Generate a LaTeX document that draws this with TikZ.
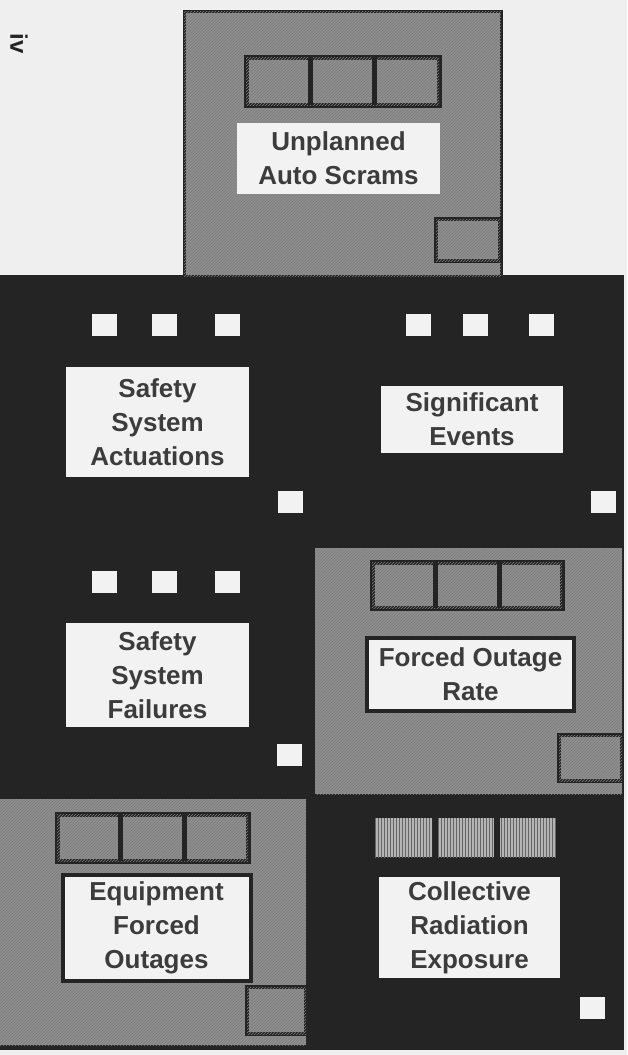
\documentclass[tikz,border=0pt]{standalone}
\usepackage{fontspec}
\setmainfont{Liberation Sans}
\usetikzlibrary{patterns}
\definecolor{paper}{HTML}{EFEFEF}
\definecolor{ink}{HTML}{242424}
\definecolor{panel}{HTML}{8F8F8F}
\definecolor{hatch}{HTML}{7C7C7C}
\definecolor{card}{HTML}{F2F2F2}
\definecolor{txt}{HTML}{3C3C3C}
\definecolor{stripe}{HTML}{B4B4B4}
\begin{document}
\begin{tikzpicture}[x=1pt,y=-1pt,
  grayfill/.style={fill=panel,postaction={pattern=north east lines,pattern color=hatch}},
  lbl/.style={fill=card,align=center,inner sep=0pt,text=txt,
    font=\bfseries\fontsize{26}{34}\selectfont},
  framedlbl/.style={lbl,draw=ink,line width=4pt},
  wsq/.style={fill=card,minimum width=25pt,minimum height=22pt,inner sep=0pt},
  barline/.style={draw=ink,line width=5pt},
  cornersq/.style={grayfill,draw=ink,line width=4pt}]
\useasboundingbox (0,0) rectangle (627,1055);
\fill[paper] (0,0) rectangle (627,1055);
% page number
\node[rotate=-90,font=\bfseries\fontsize{24}{24}\selectfont,text=ink,inner sep=0pt] (pg) at (19,44) {iv};
% dark base
\fill[ink] (0,275) rectangle (624,1050);
% ---------- top panel ----------
\path[grayfill,draw=ink,line width=3pt] (184,11) rectangle (501,276);
\path[grayfill,barline] (246,57) rectangle (439,105);
\draw[barline] (310,57) -- (310,105) (374,57) -- (374,105);
\node[lbl,minimum width=203pt,minimum height=71pt] (uas) at (338.5,158) {Unplanned\\Auto Scrams};
\path[cornersq] (436,219) rectangle (500,261);
% ---------- row 1 ----------
\node[wsq] (a1) at (104,325) {};
\node[wsq] (a2) at (164,325) {};
\node[wsq] (a3) at (227,325) {};
\node[wsq] (b1) at (418,325) {};
\node[wsq] (b2) at (475,325) {};
\node[wsq] (b3) at (541,325) {};
\node[lbl,minimum width=183pt,minimum height=110pt] (ssa) at (157.5,422) {Safety\\System\\Actuations};
\node[lbl,minimum width=182pt,minimum height=67pt] (sig) at (472,419.5) {Significant\\Events};
\node[wsq] (a4) at (290,502) {};
\node[wsq] (b4) at (603,502) {};
% ---------- row 2 left ----------
\node[wsq] (c1) at (104,582) {};
\node[wsq] (c2) at (164,582) {};
\node[wsq] (c3) at (227,582) {};
\node[lbl,minimum width=183pt,minimum height=104pt] (ssf) at (157.5,675) {Safety\\System\\Failures};
\node[wsq] (c4) at (289,754.5) {};
% ---------- row 2 right (gray) ----------
\path[grayfill] (315,548) rectangle (622,794);
\path[grayfill,barline] (372,562) rectangle (562,608);
\draw[barline] (435,562) -- (435,608) (499,562) -- (499,608);
\node[framedlbl,minimum width=207pt,minimum height=73pt] (for) at (470.5,674.5) {Forced Outage\\Rate};
\path[cornersq] (559,735) rectangle (622,781);
% ---------- row 3 left (gray) ----------
\path[grayfill] (0,799) rectangle (306,1045);
\path[grayfill,barline] (57,814) rectangle (248,861);
\draw[barline] (120,814) -- (120,861) (184,814) -- (184,861);
\node[framedlbl,minimum width=188pt,minimum height=106pt] (efo) at (156.5,928) {Equipment\\Forced\\Outages};
\path[cornersq] (247,987) rectangle (306,1034);
% ---------- row 3 right ----------
\foreach \xa/\xb [count=\i] in {375/432,438/494,500/556}{
  \path[fill=stripe,postaction={pattern=vertical lines,pattern color=ink!70}] (\xa,818) rectangle (\xb,857);
}
\node[lbl,minimum width=181pt,minimum height=101pt] (cre) at (469.5,927.5) {Collective\\Radiation\\Exposure};
\node[wsq] (d4) at (592.5,1008) {};
\end{tikzpicture}
\end{document}
